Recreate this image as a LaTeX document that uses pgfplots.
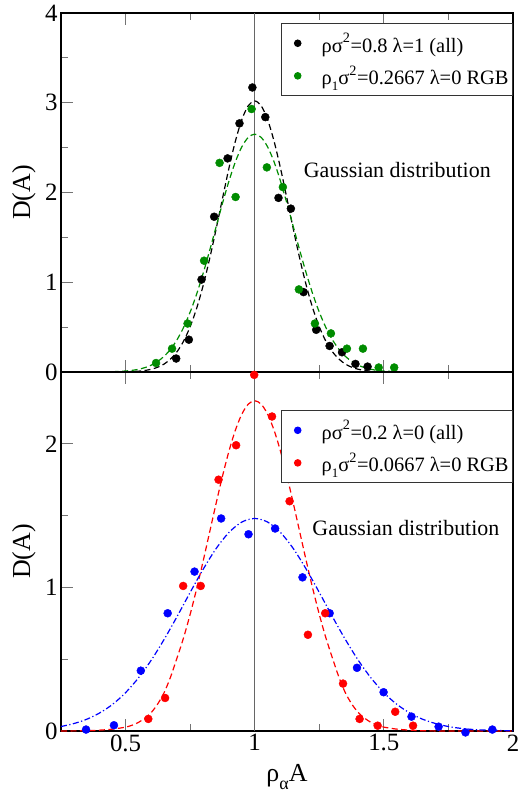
\documentclass[border=0pt]{standalone}
\usepackage{fontspec}
\setmainfont{Liberation Serif}
\usepackage{pgfplots}
\usepackage{pgfplotstable}
\pgfplotsset{compat=1.18}

\definecolor{dkgreen}{RGB}{0,140,0}

% ---------- upper panel: measured points ----------
\pgfplotstableread{
x y
0.696 0.15
0.745 0.36
0.794 1.03
0.843 1.73
0.895 2.38
0.941 2.77
0.991 3.17
1.041 2.84
1.092 1.94
1.140 1.82
1.189 0.89
1.238 0.47
1.290 0.29
1.338 0.22
1.390 0.09
1.437 0.06
}\allA

\pgfplotstableread{
x y
0.618 0.10
0.680 0.26
0.740 0.54
0.804 1.24
0.864 2.33
0.926 1.95
0.988 2.93
1.047 2.28
1.109 2.06
1.171 0.92
1.233 0.54
1.295 0.43
1.357 0.26
1.419 0.26
1.480 0.05
1.540 0.05
}\rgbA

% ---------- upper panel: Gaussian curves ----------
\pgfplotstableread{
x y
0.500 0.002
0.550 0.009
0.575 0.017
0.600 0.031
0.625 0.054
0.650 0.090
0.675 0.147
0.700 0.229
0.725 0.346
0.750 0.504
0.775 0.708
0.800 0.960
0.825 1.256
0.850 1.585
0.875 1.930
0.900 2.268
0.925 2.570
0.950 2.811
0.975 2.967
1.000 3.020
1.025 2.967
1.050 2.811
1.075 2.570
1.100 2.268
1.125 1.930
1.150 1.585
1.175 1.256
1.200 0.960
1.225 0.708
1.250 0.504
1.275 0.346
1.300 0.229
1.325 0.147
1.350 0.090
1.375 0.054
1.400 0.031
1.425 0.017
1.450 0.009
1.500 0.002
}\gaussA

\pgfplotstableread{
x y
0.450 0.003
0.500 0.011
0.525 0.018
0.550 0.030
0.575 0.049
0.600 0.077
0.625 0.119
0.650 0.177
0.675 0.257
0.700 0.363
0.725 0.499
0.750 0.667
0.775 0.867
0.800 1.096
0.825 1.348
0.850 1.613
0.875 1.877
0.900 2.125
0.925 2.341
0.950 2.508
0.975 2.614
1.000 2.650
1.025 2.614
1.050 2.508
1.075 2.341
1.100 2.125
1.125 1.877
1.150 1.613
1.175 1.348
1.200 1.096
1.225 0.867
1.250 0.667
1.275 0.499
1.300 0.363
1.325 0.257
1.350 0.177
1.375 0.119
1.400 0.077
1.425 0.049
1.450 0.030
1.475 0.018
1.500 0.011
1.550 0.003
}\gaussB

% ---------- lower panel: measured points ----------
\pgfplotstableread{
x y
0.347 0.01
0.455 0.04
0.559 0.42
0.663 0.82
0.767 1.11
0.870 1.48
0.976 1.37
1.079 1.41
1.185 1.07
1.290 0.82
1.396 0.44
1.499 0.27
1.607 0.10
1.712 0.03
1.816 -0.01
1.920 0.01
}\allB

\pgfplotstableread{
x y
0.588 0.084
0.653 0.23
0.723 1.01
0.791 1.01
0.860 1.75
0.928 1.99
0.998 2.48
1.067 2.19
1.135 1.60
1.206 0.67
1.273 0.82
1.342 0.33
1.406 0.084
1.476 0.037
1.544 0.134
1.613 0.037
}\rgbB

% ---------- lower panel: Gaussian curves ----------
\pgfplotstableread{
x y
0.250 0.031
0.300 0.052
0.350 0.082
0.400 0.126
0.450 0.186
0.500 0.267
0.550 0.370
0.600 0.495
0.650 0.640
0.700 0.799
0.750 0.965
0.800 1.125
0.850 1.269
0.900 1.382
0.950 1.455
1.000 1.480
1.050 1.455
1.100 1.382
1.150 1.269
1.200 1.125
1.250 0.965
1.300 0.799
1.350 0.640
1.400 0.495
1.450 0.370
1.500 0.267
1.550 0.186
1.600 0.126
1.650 0.082
1.700 0.052
1.750 0.031
1.800 0.018
1.850 0.010
1.900 0.006
1.950 0.003
2.000 0.002
}\gaussC

\pgfplotstableread{
x y
0.250 0.000
0.350 0.002
0.400 0.006
0.450 0.013
0.500 0.027
0.525 0.040
0.550 0.060
0.575 0.090
0.600 0.130
0.625 0.190
0.650 0.270
0.675 0.380
0.700 0.513
0.725 0.652
0.750 0.812
0.775 0.989
0.800 1.181
0.825 1.381
0.850 1.581
0.875 1.773
0.900 1.947
0.925 2.094
0.950 2.206
0.975 2.276
1.000 2.300
1.025 2.276
1.050 2.206
1.075 2.094
1.100 1.947
1.125 1.773
1.150 1.581
1.175 1.381
1.200 1.181
1.225 0.989
1.250 0.812
1.275 0.652
1.300 0.513
1.325 0.380
1.350 0.270
1.375 0.190
1.400 0.130
1.425 0.090
1.450 0.060
1.475 0.040
1.500 0.027
1.550 0.013
1.600 0.006
1.650 0.002
1.750 0.000
2.000 0.000
}\gaussD

\newcommand{\sq}{\textsuperscript{\raisebox{0.15em}{2}}}
\newcommand{\subone}{\raisebox{-0.3em}{\fontsize{13}{13}\selectfont 1}}

\pgfplotsset{
  panel/.style={
    scale only axis,
    width=452bp, height=359bp,
    xmin=0.25, xmax=2,
    xtick={0.5,1,1.5,2},
    minor xtick={0.25,0.75,1.25,1.75},
    tick align=inside,
    xtick pos=both, ytick pos=left,
    major tick length=12bp, minor tick length=7bp,
    tick style={black!55, line width=0.9bp},
    axis line style={black, line width=1.4bp},
    tick label style={font=\fontsize{25}{27}\selectfont},
    label style={font=\fontsize{26}{28}\selectfont},
    /pgf/number format/assume math mode=true,
    ylabel={D(A)},
    ylabel style={at={(axis description cs:-0.0819,0.5)}, anchor=center},
    clip=false,
    legend cell align=left,
    legend image code/.code={%
      \path[draw=none] (0bp,0bp) -- (36.7bp,0bp);
      \path[#1, draw=none, only marks, mark size=3.3bp]
        plot coordinates {(14.7bp,0bp)};},
    legend style={
      anchor=north east,
      font=\fontsize{20.5}{23}\selectfont,
      draw=black!80, line width=0.9bp,
      inner xsep=2bp, inner ysep=7.5bp,
      row sep=8bp,
    },
  },
  pts/.style={only marks, mark=*, mark size=4bp, mark options={draw=none}},
  fitdash/.style={no marks, line width=1.2bp, dash pattern=on 6bp off 3.5bp, smooth, forget plot},
}

\begin{document}
\begin{tikzpicture}
\path[use as bounding box] (0,0) rectangle (518bp,795bp);

% upper panel
\begin{axis}[panel,
  at={(61bp,423bp)}, anchor=south west,
  ymin=0, ymax=4,
  ytick={0,1,2,3,4}, minor ytick={0.5,1.5,2.5,3.5},
  xticklabels={},
  legend style={at={(1,0.9721)}},
]
\addplot[black!60, line width=0.9bp, forget plot] coordinates {(1,0) (1,4)};
\addplot[fitdash, black] table {\gaussA};
\addplot[fitdash, dkgreen] table {\gaussB};
\addplot[pts, black] table {\allA};
\addlegendentry{ρσ\sq=0.8 λ=1 (all)}
\addplot[pts, dkgreen] table {\rgbA};
\addlegendentry{ρ\subone σ\sq=0.2667 λ=0 RGB}
\node[font=\fontsize{22}{24}\selectfont] at (rel axis cs:0.744,0.563) {Gaussian distribution};
\end{axis}

% lower panel
\begin{axis}[panel,
  at={(61bp,64bp)}, anchor=south west,
  ymin=0, ymax=2.5,
  ytick={0,1,2}, minor ytick={0.5,1.5},
  xlabel={ρ\raisebox{-0.3em}{\fontsize{18}{18}\selectfont α}A},
  xlabel style={at={(axis description cs:0.5,-0.141)}, anchor=base},
  legend style={at={(1,0.894)}},
]
\addplot[black!60, line width=0.9bp, forget plot] coordinates {(1,0) (1,2.5)};
\addplot[fitdash, red] table {\gaussD};
\addplot[no marks, smooth, forget plot, blue, line width=1.2bp,
  dash pattern=on 6bp off 2.5bp on 1.2bp off 2.5bp] table {\gaussC};
\addplot[pts, blue] table {\allB};
\addlegendentry{ρσ\sq=0.2 λ=0 (all)}
\addplot[pts, red] table {\rgbB};
\addlegendentry{ρ\subone σ\sq=0.0667 λ=0 RGB}
\node[font=\fontsize{22}{24}\selectfont] at (rel axis cs:0.763,0.565) {Gaussian distribution};
\end{axis}
\end{tikzpicture}
\end{document}
